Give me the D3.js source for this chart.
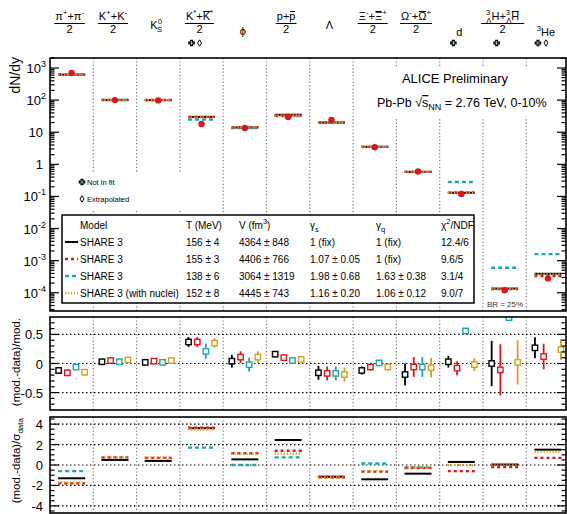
<!DOCTYPE html>
<html>
<head>
<meta charset="utf-8">
<script src="https://cdn.jsdelivr.net/npm/d3@7"></script>
<style>
body { margin: 0; background: #fff; }
svg { display: block; font-family: "Liberation Sans", Arial, sans-serif; }
</style>
</head>
<body>
<div id="chart"></div>
<script>
// particle species (one column each)
var species = ["pi", "K", "K0s", "Kstar", "phi", "p", "Lambda", "Xi", "Omega", "d", "hyper", "He3"];

// measured dN/dy
var dataYield = [700, 100, 98, 18, 13.5, 30, 24, 3.4, 0.6, 0.12, 1.2e-4, 2.8e-4];

// model dN/dy (SHARE 3 fits)
var yieldBlack  = [620, 100, 100, 30, 14, 35, 20, 3.5, 0.58, 0.13, 1.35e-4, 3.9e-4];
var yieldRed    = [615, 102, 101, 30, 14.3, 33, 20, 3.5, 0.58, 0.13, 1.3e-4, 3.3e-4];
var yieldCyan   = [625, 101, 100, 25, 13.4, 32, 20, 3.5, 0.58, 0.28, 6e-4, 1.6e-3];
var yieldOrange = [612, 103, 102, 29, 14.2, 33, 20, 3.5, 0.58, 0.13, 1.35e-4, 3.8e-4];

// (mod.-data)/mod. and its error
var ratioBlack  = [-0.12, 0.03, 0.02, 0.37, 0.04, 0.16, -0.16, -0.12, -0.19, 0.03, 0.0, 0.27];
var errBlack    = [0.06, 0.05, 0.05, 0.085, 0.11, 0.05, 0.12, 0.07, 0.19, 0.1, 0.39, 0.18];
var ratioRed    = [-0.16, 0.05, 0.04, 0.37, 0.11, 0.10, -0.17, -0.06, -0.06, -0.08, -0.11, 0.12];
var errRed      = [0.06, 0.05, 0.05, 0.085, 0.1, 0.05, 0.12, 0.06, 0.17, 0.12, 0.44, 0.22];
var ratioCyan   = [-0.06, 0.03, 0.02, 0.21, -0.02, 0.05, -0.17, 0.01, -0.06, 0.56, 0.79, null];
var errCyan     = [0.05, 0.05, 0.05, 0.13, 0.12, 0.05, 0.12, 0.05, 0.17, 0.02, 0.02, null];
var ratioOrange = [-0.15, 0.06, 0.05, 0.35, 0.11, 0.07, -0.19, -0.06, -0.07, -0.02, 0.02, 0.24];
var errOrange   = [0.06, 0.05, 0.05, 0.085, 0.1, 0.05, 0.12, 0.06, 0.17, 0.11, 0.38, 0.18];

// (mod.-data)/sigma_data
var sigBlack  = [-1.3, 0.5, 0.4, 3.6, 0.55, 2.45, -1.15, -1.4, -0.85, 0.3, 0.05, 1.5];
var sigRed    = [-1.8, 0.75, 0.7, 3.65, 1.15, 1.4, -1.2, -0.65, -0.3, -0.6, -0.2, 0.7];
var sigCyan   = [-0.6, 0.5, 0.4, 1.7, 0.0, 0.75, -1.15, 0.15, -0.25, null, null, null];
var sigOrange = [-1.7, 0.8, 0.75, 3.5, 1.1, 1.1, -1.25, -0.6, -0.25, 0.0, 0.1, 1.3];

// fit results for the legend table
var modelNames = ["SHARE 3", "SHARE 3", "SHARE 3", "SHARE 3 (with nuclei)"];
var fitT    = ["156 ± 4", "155 ± 3", "138 ± 6", "152 ± 8"];
var fitV    = ["4364 ± 848", "4406 ± 766", "3064 ± 1319", "4445 ± 743"];
var fitGs   = ["1 (fix)", "1.07 ± 0.05", "1.98 ± 0.68", "1.16 ± 0.20"];
var fitGq   = ["1 (fix)", "1 (fix)", "1.63 ± 0.38", "1.06 ± 0.12"];
var fitChi2 = ["12.4/6", "9.6/5", "3.1/4", "9.0/7"];

var notInFit = ["Kstar", "d", "hyper", "He3"];
var extrapolated = ["Kstar", "He3"];

var yTicksTop = [-4, -3, -2, -1, 0, 1, 2, 3];
var yTicksMid = [-0.5, 0, 0.5];
var yTicksBot = [-4, -2, 0, 2, 4];

// styles
var models = [
    {color: "#000000", dash: null, w: 2},
    {color: "#e0141e", dash: "3,3", w: 2.4},
    {color: "#1aa8a8", dash: "4,3", w: 2.4},
    {color: "#d4a020", dash: "1.2,1.8", w: 2.4}
];
var yieldSets = [yieldBlack, yieldRed, yieldCyan, yieldOrange];
var ratioSets = [ratioBlack, ratioRed, ratioCyan, ratioOrange];
var errSets = [errBlack, errRed, errCyan, errOrange];
var sigSets = [sigBlack, sigRed, sigCyan, sigOrange];

var width = 567, height = 514;
var left = 50, right = 566;

var svg = d3.select("#chart").append("svg")
    .attr("width", width)
    .attr("height", height);

var x = d3.scaleBand().domain(species).range([50, 569.6]);
var bw = x.bandwidth();
function cx(s) { return x(s) + bw / 2; }

var yTop = d3.scaleLog().domain([2.7e-5, 2050]).range([311, 58]);
var yMid = d3.scaleLinear().domain([-0.8, 0.8]).range([410, 317]);
var yBot = d3.scaleLinear().domain([-4.7, 4.7]).range([513, 417]);

var panels = [
    {y: yTop, top: 58, bottom: 311, id: "top"},
    {y: yMid, top: 317, bottom: 410, id: "mid"},
    {y: yBot, top: 417, bottom: 513, id: "bot"}
];

var defs = svg.append("defs");
panels.forEach(function (p) {
    defs.append("clipPath").attr("id", "clip-" + p.id)
        .append("rect")
        .attr("x", left).attr("y", p.top)
        .attr("width", right - left).attr("height", p.bottom - p.top);
});

// vertical dotted separators
panels.forEach(function (p) {
    svg.append("g").selectAll("line")
        .data(species.slice(1))
        .enter().append("line")
        .attr("x1", function (d) { return x(d); })
        .attr("x2", function (d) { return x(d); })
        .attr("y1", p.top).attr("y2", p.bottom)
        .attr("stroke", "#777")
        .attr("stroke-width", 1.2)
        .attr("stroke-dasharray", "1.2,2.2");
});

// horizontal dotted grid in ratio panels
function hGrid(scale, vals) {
    svg.append("g").selectAll("line")
        .data(vals)
        .enter().append("line")
        .attr("x1", left).attr("x2", right)
        .attr("y1", function (d) { return scale(d); })
        .attr("y2", function (d) { return scale(d); })
        .attr("stroke", "#000")
        .attr("stroke-width", 1.2)
        .attr("stroke-dasharray", "1.5,2.5");
}
hGrid(yMid, yTicksMid);
hGrid(yBot, yTicksBot);

// white boxes hiding grid behind texts
svg.append("rect").attr("x", 370).attr("y", 66).attr("width", 178).attr("height", 51).attr("fill", "#fff");
svg.append("rect").attr("x", 74).attr("y", 172).attr("width", 110).attr("height", 37).attr("fill", "#fff");

// ---- top panel: model lines and data ----
var gTop = svg.append("g").attr("clip-path", "url(#clip-top)");
[0, 2, 1, 3].forEach(function (m) {
    gTop.append("g").selectAll("line")
        .data(species)
        .enter().append("line")
        .attr("x1", function (d) { return cx(d) - 13.5; })
        .attr("x2", function (d) { return cx(d) + 13.5; })
        .attr("y1", function (d, i) { return yTop(yieldSets[m][i]); })
        .attr("y2", function (d, i) { return yTop(yieldSets[m][i]); })
        .attr("stroke", models[m].color)
        .attr("stroke-width", models[m].w)
        .attr("stroke-dasharray", models[m].dash);
});
gTop.append("g").selectAll("circle")
    .data(species)
    .enter().append("circle")
    .attr("cx", function (d) { return cx(d); })
    .attr("cy", function (d, i) { return yTop(dataYield[i]); })
    .attr("r", 3.2)
    .attr("fill", "#e0141e");

// ---- middle panel: ratios with errors ----
var gMid = svg.append("g").attr("clip-path", "url(#clip-mid)");
var offsets = [-13, -4.3, 4.3, 13];
[0, 1, 2, 3].forEach(function (m) {
    var pts = species.map(function (s, i) {
        return {s: s, v: ratioSets[m][i], e: errSets[m][i]};
    }).filter(function (d) { return d.v !== null; });
    var g = gMid.append("g");
    g.selectAll("line")
        .data(pts)
        .enter().append("line")
        .attr("x1", function (d) { return cx(d.s) + offsets[m]; })
        .attr("x2", function (d) { return cx(d.s) + offsets[m]; })
        .attr("y1", function (d) { return yMid(d.v - d.e); })
        .attr("y2", function (d) { return yMid(d.v + d.e); })
        .attr("stroke", models[m].color)
        .attr("stroke-width", 1.8);
    g.selectAll("rect")
        .data(pts)
        .enter().append("rect")
        .attr("x", function (d) { return cx(d.s) + offsets[m] - 2.7; })
        .attr("y", function (d) { return yMid(d.v) - 2.7; })
        .attr("width", 5.4).attr("height", 5.4)
        .attr("fill", "#fff")
        .attr("stroke", models[m].color)
        .attr("stroke-width", 1.4);
});

// ---- bottom panel: deviation in sigma ----
var gBot = svg.append("g").attr("clip-path", "url(#clip-bot)");
[2, 0, 1, 3].forEach(function (m) {
    var pts = species.map(function (s, i) {
        return {s: s, v: sigSets[m][i]};
    }).filter(function (d) { return d.v !== null; });
    gBot.append("g").selectAll("line")
        .data(pts)
        .enter().append("line")
        .attr("x1", function (d) { return cx(d.s) - 13.5; })
        .attr("x2", function (d) { return cx(d.s) + 13.5; })
        .attr("y1", function (d) { return yBot(d.v); })
        .attr("y2", function (d) { return yBot(d.v); })
        .attr("stroke", models[m].color)
        .attr("stroke-width", models[m].w)
        .attr("stroke-dasharray", models[m].dash);
});

// ---- frames and axes ----
panels.forEach(function (p) {
    svg.append("rect")
        .attr("x", left).attr("y", p.top)
        .attr("width", right - left).attr("height", p.bottom - p.top)
        .attr("fill", "none")
        .attr("stroke", "#000")
        .attr("stroke-width", 1.6);
});

function ticks(vals, scale, len) {
    var g = svg.append("g");
    vals.forEach(function (v) {
        var yy = scale(v);
        g.append("line").attr("x1", left).attr("x2", left + len).attr("y1", yy).attr("y2", yy)
            .attr("stroke", "#000").attr("stroke-width", 1.2);
        g.append("line").attr("x1", right).attr("x2", right - len).attr("y1", yy).attr("y2", yy)
            .attr("stroke", "#000").attr("stroke-width", 1.2);
    });
}

// log axis
var minorTop = [];
d3.range(-5, 4).forEach(function (k) {
    d3.range(2, 10).forEach(function (m) {
        var v = m * Math.pow(10, k);
        if (v > yTop.domain()[0] && v < yTop.domain()[1]) minorTop.push(v);
    });
});
ticks(yTicksTop.map(function (k) { return Math.pow(10, k); }), yTop, 9);
ticks(minorTop, yTop, 4.5);

var topLabels = svg.append("g").attr("font-size", 13).attr("text-anchor", "end");
yTicksTop.forEach(function (k) {
    var t = topLabels.append("text")
        .attr("x", k < 2 && k >= 0 ? 43 : 46)
        .attr("y", yTop(Math.pow(10, k)) + 5);
    if (k === 0) t.text("1");
    else if (k === 1) t.text("10");
    else {
        t.append("tspan").text("10");
        t.append("tspan").attr("dy", -6).attr("font-size", 9).text(k);
    }
});

ticks(yTicksMid, yMid, 9);
ticks(d3.range(-0.7, 0.75, 0.1).map(function (v) { return Math.round(v * 10) / 10; })
    .filter(function (v) { return yTicksMid.indexOf(v) < 0; }), yMid, 4.5);
svg.append("g").attr("font-size", 13).attr("text-anchor", "end")
    .selectAll("text").data(yTicksMid).enter().append("text")
    .attr("x", 43)
    .attr("y", function (d) { return yMid(d) + 5; })
    .text(function (d) { return d === 0 ? "0" : d3.format(".1f")(d).replace("−", "-"); });

ticks(yTicksBot, yBot, 9);
ticks([-4.5, -3.5, -3, -2.5, -1.5, -1, -0.5, 0.5, 1, 1.5, 2.5, 3, 3.5, 4.5], yBot, 4.5);
svg.append("g").attr("font-size", 13).attr("text-anchor", "end")
    .selectAll("text").data(yTicksBot).enter().append("text")
    .attr("x", 43)
    .attr("y", function (d) { return yBot(d) + 5; })
    .text(function (d) { return String(d); });

// axis titles
svg.append("text")
    .attr("transform", "translate(20,57) rotate(-90)")
    .attr("text-anchor", "end")
    .attr("font-size", 14)
    .text("dN/dy");
svg.append("text")
    .attr("transform", "translate(20,318) rotate(-90)")
    .attr("text-anchor", "end")
    .attr("font-size", 11.5)
    .text("(mod.-data)/mod.");
var sigTitle = svg.append("text")
    .attr("transform", "translate(20,418) rotate(-90)")
    .attr("text-anchor", "end")
    .attr("font-size", 11.5);
sigTitle.append("tspan").text("(mod.-data)/σ");
sigTitle.append("tspan").attr("dy", 3).attr("font-size", 8).text("data");

// ---- header labels ----
var overNodes = [];
function richText(sel, segs, size) {
    var cur = 0;
    segs.forEach(function (s) {
        var off = s.s === "sup" ? -0.42 * size : (s.s === "sub" ? 0.3 * size : 0);
        var ts = sel.append("tspan")
            .attr("dy", off - cur)
            .attr("font-size", s.s ? size * 0.7 : size)
            .text(s.t);
        if (s.dx) ts.attr("dx", s.dx);
        cur = off;
        if (s.o) overNodes.push(ts.node());
    });
}

var headerLabels = [
    {num: [{t: "π"}, {t: "+", s: "sup"}, {t: "+π"}, {t: "-", s: "sup"}]},
    {num: [{t: "K"}, {t: "+", s: "sup"}, {t: "+K"}, {t: "-", s: "sup"}]},
    {single: [{t: "K"}, {t: "0", s: "sup"}, {t: "S", s: "sub", dx: -5}], y: 29},
    {num: [{t: "K"}, {t: "*", s: "sup"}, {t: "+"}, {t: "K", o: true}, {t: "*", s: "sup"}]},
    {single: [{t: "ϕ"}], y: 35},
    {num: [{t: "p+"}, {t: "p", o: true}]},
    {single: [{t: "Λ"}], y: 29},
    {num: [{t: "Ξ"}, {t: "-", s: "sup"}, {t: "+"}, {t: "Ξ", o: true}, {t: "+", s: "sup"}]},
    {num: [{t: "Ω"}, {t: "-", s: "sup"}, {t: "+"}, {t: "Ω", o: true}, {t: "+", s: "sup"}]},
    {single: [{t: "d"}], y: 36},
    {num: [{t: "3", s: "sup"}, {t: "Λ", s: "sub", dx: -4}, {t: "H+"}, {t: "3", s: "sup"}, {t: "Λ", s: "sub", dx: -4}, {t: "H", o: true}]},
    {single: [{t: "3", s: "sup"}, {t: "He"}], y: 36}
];

var hdr = svg.append("g").attr("text-anchor", "middle");
headerLabels.forEach(function (h, i) {
    var c = cx(species[i]) - 2;
    if (h.num) {
        var t = hdr.append("text").attr("x", c).attr("y", 20);
        richText(t, h.num, 11);
        var w = t.node().getComputedTextLength();
        hdr.append("line")
            .attr("x1", c - w / 2 - 1).attr("x2", c + w / 2 + 1)
            .attr("y1", 23.5).attr("y2", 23.5)
            .attr("stroke", "#000").attr("stroke-width", 1);
        hdr.append("text").attr("x", c).attr("y", 33).attr("font-size", 11).text("2");
    } else {
        var t2 = hdr.append("text").attr("x", c).attr("y", h.y);
        richText(t2, h.single, 11);
    }
});
overNodes.forEach(function (n) {
    var b = n.getBBox();
    hdr.append("line")
        .attr("x1", b.x + 0.5).attr("x2", b.x + b.width - 0.5)
        .attr("y1", b.y + 1.5).attr("y2", b.y + 1.5)
        .attr("stroke", "#000").attr("stroke-width", 1);
});

// not in fit / extrapolated markers
var crossPath = "M-0.9,-2.7L0.9,-2.7L0.9,-0.9L2.7,-0.9L2.7,0.9L0.9,0.9L0.9,2.7L-0.9,2.7L-0.9,0.9L-2.7,0.9L-2.7,-0.9L-0.9,-0.9Z";
var diamondPath = "M0,-3.2L2,0L0,3.2L-2,0Z";
species.forEach(function (s) {
    var nf = notInFit.indexOf(s) >= 0, ex = extrapolated.indexOf(s) >= 0;
    var c = cx(s) - 6;
    if (nf && ex) {
        svg.append("path").attr("d", crossPath).attr("transform", "translate(" + (c - 4) + ",43)")
            .attr("fill", "none").attr("stroke", "#000").attr("stroke-width", 1.2);
        svg.append("path").attr("d", diamondPath).attr("transform", "translate(" + (c + 4) + ",43)")
            .attr("fill", "none").attr("stroke", "#000").attr("stroke-width", 1);
    } else if (nf) {
        svg.append("path").attr("d", crossPath).attr("transform", "translate(" + (c - 2) + ",43)")
            .attr("fill", "none").attr("stroke", "#000").attr("stroke-width", 1.2);
    }
});

// marker legend
svg.append("path").attr("d", crossPath).attr("transform", "translate(82,182)")
    .attr("fill", "none").attr("stroke", "#000").attr("stroke-width", 1.2);
svg.append("text").attr("x", 87).attr("y", 185).attr("font-size", 7.5).text("Not in fit");
svg.append("path").attr("d", diamondPath).attr("transform", "translate(82,199)")
    .attr("fill", "none").attr("stroke", "#000").attr("stroke-width", 1);
svg.append("text").attr("x", 87).attr("y", 202).attr("font-size", 7.5).text("Extrapolated");

// ALICE labels
svg.append("text").attr("x", 455).attr("y", 83).attr("text-anchor", "middle")
    .attr("font-size", 13).text("ALICE Preliminary");
var sys = svg.append("text").attr("x", 377).attr("y", 107).attr("font-size", 12.5);
sys.append("tspan").text("Pb-Pb  √");
sys.append("tspan").attr("text-decoration", "overline").text("s");
sys.append("tspan").attr("dy", 3).attr("font-size", 9).text("NN");
sys.append("tspan").attr("dy", -3).text(" = 2.76 TeV, 0-10%");

svg.append("text").attr("x", 505).attr("y", 307).attr("text-anchor", "middle")
    .attr("font-size", 8).attr("fill", "#333").text("BR = 25%");

// ---- fit legend table ----
var lg = svg.append("g");
lg.append("rect").attr("x", 62).attr("y", 215).attr("width", 412).attr("height", 88)
    .attr("fill", "#fff").attr("stroke", "#000").attr("stroke-width", 1.5);
var colX = [80, 186, 239, 310, 376, 441];
var hy = 229;
var fs = 10;
lg.append("text").attr("x", colX[0]).attr("y", hy).attr("font-size", fs).text("Model");
lg.append("text").attr("x", colX[1]).attr("y", hy).attr("font-size", fs).text("T (MeV)");
var vt = lg.append("text").attr("x", colX[2]).attr("y", hy).attr("font-size", fs);
vt.append("tspan").text("V (fm");
vt.append("tspan").attr("dy", -5).attr("font-size", 7.5).text("3");
vt.append("tspan").attr("dy", 5).text(")");
var gs = lg.append("text").attr("x", colX[3]).attr("y", hy).attr("font-size", fs);
gs.append("tspan").text("γ");
gs.append("tspan").attr("dy", 3).attr("font-size", 7.5).text("s");
var gq = lg.append("text").attr("x", colX[4]).attr("y", hy).attr("font-size", fs);
gq.append("tspan").text("γ");
gq.append("tspan").attr("dy", 3).attr("font-size", 7.5).text("q");
var ch = lg.append("text").attr("x", colX[5]).attr("y", hy).attr("font-size", fs);
ch.append("tspan").text("χ");
ch.append("tspan").attr("dy", -5).attr("font-size", 7.5).text("2");
ch.append("tspan").attr("dy", 5).text("/NDF");

var rowY = [246, 263, 280, 297];
modelNames.forEach(function (name, i) {
    var ry = rowY[i];
    lg.append("line")
        .attr("x1", 65).attr("x2", 78)
        .attr("y1", ry - 4).attr("y2", ry - 4)
        .attr("stroke", models[i].color)
        .attr("stroke-width", models[i].w)
        .attr("stroke-dasharray", models[i].dash);
    var cells = [name, fitT[i], fitV[i], fitGs[i], fitGq[i], fitChi2[i]];
    cells.forEach(function (c, j) {
        lg.append("text").attr("x", colX[j]).attr("y", ry).attr("font-size", fs).text(c);
    });
});
</script>
</body>
</html>
